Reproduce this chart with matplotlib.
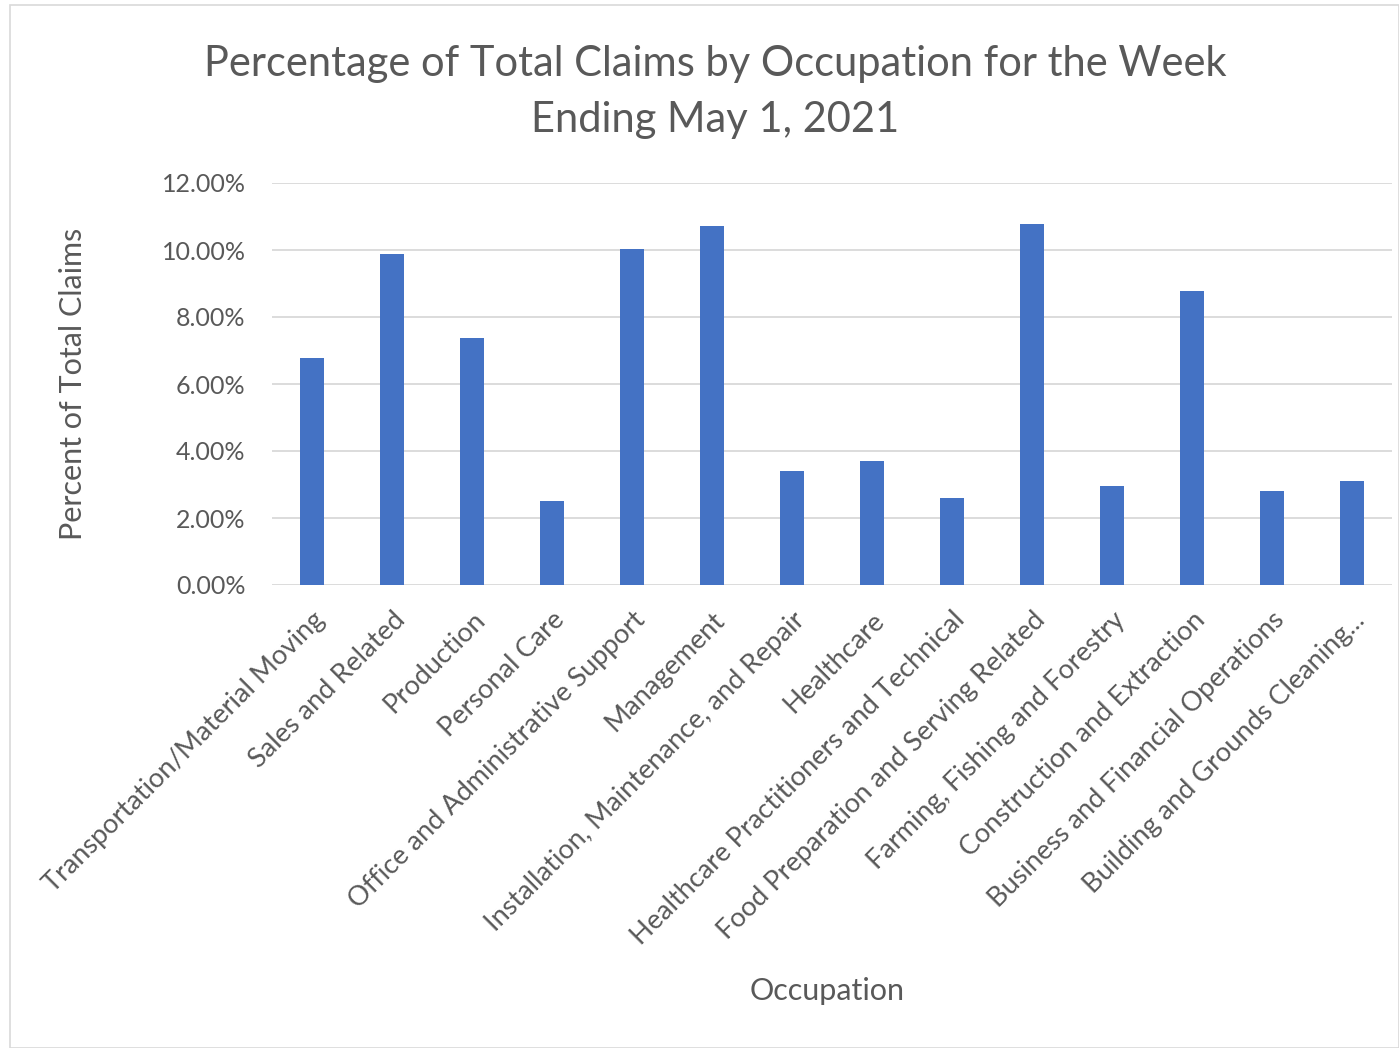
import matplotlib
matplotlib.use("Agg")
import matplotlib.pyplot as plt
from matplotlib.ticker import FuncFormatter
from matplotlib.patches import Rectangle

categories = [
    "Transportation/Material Moving",
    "Sales and Related",
    "Production",
    "Personal Care",
    "Office and Administrative Support",
    "Management",
    "Installation, Maintenance, and Repair",
    "Healthcare",
    "Healthcare Practitioners and Technical",
    "Food Preparation and Serving Related",
    "Farming, Fishing and Forestry",
    "Construction and Extraction",
    "Business and Financial Operations",
    "Building and Grounds Cleaning...",
]
values = [6.79, 9.89, 7.38, 2.52, 10.04, 10.71, 3.41, 3.71, 2.59, 10.79, 2.97, 8.79, 2.82, 3.11]
yticks = [0, 2, 4, 6, 8, 10, 12]

plt.rcParams['font.family'] = ['Lato', 'DejaVu Sans']
text_color = '#595959'

fig = plt.figure(figsize=(13.99, 10.48), dpi=100)
fig.patches.append(Rectangle((10/1399, 0), 1 - 10/1399, 1 - 5/1048, transform=fig.transFigure,
                             fill=False, edgecolor='#D9D9D9', linewidth=1.2))
ax = fig.add_axes([272/1399, 1 - 585/1048, (1392 - 272)/1399, (585 - 183)/1048])

x = list(range(len(categories)))
ax.bar(x, values, width=0.31, color='#4472C4', zorder=3)
ax.set_xlim(-0.5, len(categories) - 0.5)
ax.set_ylim(0, 12)
ax.set_yticks(yticks)
ax.yaxis.set_major_formatter(FuncFormatter(lambda v, p: f"{v:.2f}%"))
ax.grid(axis='y', color='#D9D9D9', linewidth=1.3, zorder=0)
for s in ax.spines.values():
    s.set_visible(False)
ax.tick_params(axis='both', length=0, colors=text_color)
ax.tick_params(axis='y', pad=19, labelsize=18)
ax.set_xticks(x)
ax.set_xticklabels(categories, rotation=45, ha='right', va='top', rotation_mode='anchor',
                   fontsize=19.5, color=text_color)
ax.tick_params(axis='x', pad=16)

fig.text(715/1399, 1 - 92/1048, "Percentage of Total Claims by Occupation for the Week\nEnding May 1, 2021",
         ha='center', va='center', fontsize=30, color=text_color, linespacing=1.55)
fig.text(73/1399, 1 - 384/1048, "Percent of Total Claims", rotation=90, ha='center', va='center',
         fontsize=22, color=text_color)
fig.text(827/1399, 1 - 991/1048, "Occupation", ha='center', va='center', fontsize=22, color=text_color)

fig.savefig("out.png", dpi=100)
